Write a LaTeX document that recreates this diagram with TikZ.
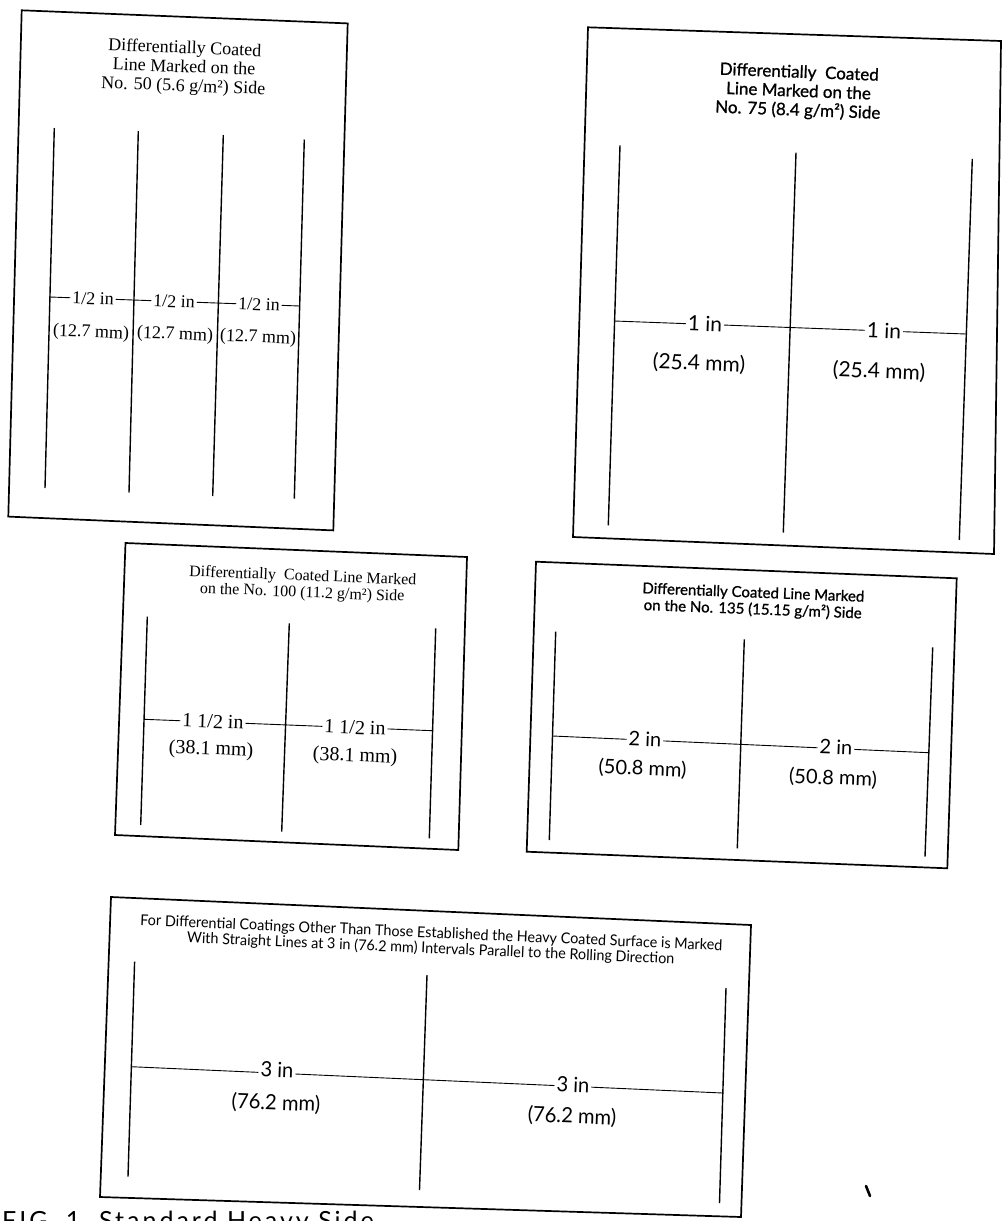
\documentclass[tikz,border=0pt]{standalone}
\usepackage{fontspec}
\setmainfont{Liberation Serif}
\newfontfamily\humsans{Lato}
\newfontfamily\humsansm[FakeBold=1]{Lato}
\newfontfamily\condsans[FakeStretch=0.96]{Lato}
\newfontfamily\capsans[LetterSpace=12]{Lato}
\begin{document}
\begin{tikzpicture}[x=1pt,y=-1pt,
  frame/.style={line width=1.7pt,line join=miter},
  vmark/.style={line width=1.4pt},
  hmark/.style={line width=0.9pt},
  lab/.style={fill=white,inner xsep=2pt,inner ysep=1pt,rotate=-2.2},
  sub/.style={inner sep=0pt,rotate=-2.2},
  ttl/.style={align=center,inner sep=0pt,rotate=-2.2},
  fa/.style={font=\fontsize{18}{19}\selectfont},
  fal/.style={font=\fontsize{18}{20}\selectfont},
  fb/.style={font=\humsansm\fontsize{17}{19}\selectfont},
  fbl/.style={font=\humsans\fontsize{21}{23}\selectfont},
  fc/.style={font=\fontsize{16}{16.6}\selectfont},
  fcl/.style={font=\fontsize{20}{22}\selectfont},
  fd/.style={font=\humsansm\fontsize{15}{16.7}\selectfont},
  fdl/.style={font=\humsans\fontsize{20}{22}\selectfont},
  fe/.style={font=\condsans\fontsize{15}{15.5}\selectfont},
  fel/.style={font=\condsans\fontsize{21}{23}\selectfont}]
\useasboundingbox (0,0) rectangle (1003,1221);
\fill[white] (0,0) rectangle (1003,1221);

% ---------- Box 1 ----------
\coordinate (b1a) at (21.7,10.3);
\coordinate (b1b) at (347.7,23.4);
\coordinate (b1c) at (333.3,530.4);
\coordinate (b1d) at (8.3,516.6);
\draw[frame] (b1a) -- (b1b) -- (b1c) -- (b1d) -- cycle;
\coordinate (b1l1t) at (54.3,128);   \coordinate (b1l1b) at (45,488);
\coordinate (b1l2t) at (138.3,131);  \coordinate (b1l2b) at (129,492.5);
\coordinate (b1l3t) at (223.3,135);  \coordinate (b1l3b) at (212.7,496);
\coordinate (b1l4t) at (304.3,139.5);\coordinate (b1l4b) at (294.3,498.7);
\draw[vmark] (b1l1t) -- (b1l1b);
\draw[vmark] (b1l2t) -- (b1l2b);
\draw[vmark] (b1l3t) -- (b1l3b);
\draw[vmark] (b1l4t) -- (b1l4b);
\coordinate (b1h0) at (49.9,297);
\coordinate (b1h3) at (299.7,306);
\draw[hmark] (b1h0) -- (b1h3);
\node[ttl,fa] (b1t) at (184,68) {Differentially Coated\\Line Marked on the\\No. 50 (5.6 g/m²) Side};
\node[lab,fal] (b1u1) at (93,298.6) {1/2 in};
\node[lab,fal] (b1u2) at (174,301.5) {1/2 in};
\node[lab,fal] (b1u3) at (259,304.5) {1/2 in};
\node[sub,fal] (b1m1) at (91,333) {(12.7 mm)};
\node[sub,fal] (b1m2) at (175,335) {(12.7 mm)};
\node[sub,fal] (b1m3) at (258,338) {(12.7 mm)};

% ---------- Box 2 ----------
\coordinate (b2a) at (588,27.3);
\coordinate (b2b) at (1001,41);
\coordinate (b2c) at (994,554);
\coordinate (b2d) at (573,537);
\draw[frame] (b2a) -- (b2b) -- (b2c) -- (b2d) -- cycle;
\coordinate (b2l1t) at (620,145.4);  \coordinate (b2l1b) at (608.3,525.3);
\coordinate (b2l2t) at (796,152.7);  \coordinate (b2l2b) at (783.3,532.5);
\coordinate (b2l3t) at (972.3,158.8);\coordinate (b2l3b) at (959.3,539.8);
\draw[vmark] (b2l1t) -- (b2l1b);
\draw[vmark] (b2l2t) -- (b2l2b);
\draw[vmark] (b2l3t) -- (b2l3b);
\coordinate (b2h0) at (614.4,321);
\coordinate (b2h2) at (966,334);
\draw[hmark] (b2h0) -- (b2h2);
\node[ttl,fb] (b2t) at (798.5,92) {Differentially\ \ Coated\\Line Marked on the\\No. 75 (8.4 g/m²) Side};
\node[lab,fbl] (b2u1) at (705,323.5) {1 in};
\node[lab,fbl] (b2u2) at (884,330.5) {1 in};
\node[sub,fbl] (b2m1) at (699,363.5) {(25.4 mm)};
\node[sub,fbl] (b2m2) at (879,371.5) {(25.4 mm)};

% ---------- Box 3 ----------
\coordinate (b3a) at (125.5,543);
\coordinate (b3b) at (467,557);
\coordinate (b3c) at (458.3,850);
\coordinate (b3d) at (115,835);
\draw[frame] (b3a) -- (b3b) -- (b3c) -- (b3d) -- cycle;
\coordinate (b3l1t) at (147.3,616.7); \coordinate (b3l1b) at (140.7,825);
\coordinate (b3l2t) at (289.3,623.3); \coordinate (b3l2b) at (281.7,831.7);
\coordinate (b3l3t) at (435.7,628.3); \coordinate (b3l3b) at (429.3,838.3);
\draw[vmark] (b3l1t) -- (b3l1b);
\draw[vmark] (b3l2t) -- (b3l2b);
\draw[vmark] (b3l3t) -- (b3l3b);
\coordinate (b3h0) at (144,719.3);
\coordinate (b3h2) at (432.6,730.7);
\draw[hmark] (b3h0) -- (b3h2);
\node[ttl,fc] (b3t) at (302.5,585) {Differentially\ \ Coated Line Marked\\on the No. 100 (11.2 g/m²) Side};
\node[lab,fcl] (b3u1) at (213,721.5) {1 1/2 in};
\node[lab,fcl] (b3u2) at (355,727.5) {1 1/2 in};
\node[sub,fcl] (b3m1) at (211,750) {(38.1 mm)};
\node[sub,fcl] (b3m2) at (355,756.7) {(38.1 mm)};

% ---------- Box 4 ----------
\coordinate (b4a) at (536,561.7);
\coordinate (b4b) at (956.7,578.3);
\coordinate (b4c) at (947.3,868.3);
\coordinate (b4d) at (526.7,851.7);
\draw[frame] (b4a) -- (b4b) -- (b4c) -- (b4d) -- cycle;
\coordinate (b4l1t) at (555.7,631.7); \coordinate (b4l1b) at (549.3,840);
\coordinate (b4l2t) at (744.3,639.3); \coordinate (b4l2b) at (737.3,848.3);
\coordinate (b4l3t) at (932.7,647.3); \coordinate (b4l3b) at (925,856.7);
\draw[vmark] (b4l1t) -- (b4l1b);
\draw[vmark] (b4l2t) -- (b4l2b);
\draw[vmark] (b4l3t) -- (b4l3b);
\coordinate (b4h0) at (552.5,736);
\coordinate (b4h2) at (928.8,752.7);
\draw[hmark] (b4h0) -- (b4h2);
\node[ttl,fd] (b4t) at (753,601.7) {Differentially Coated Line Marked\\on the No. 135 (15.15 g/m²) Side};
\node[lab,fdl] (b4u1) at (645,739.3) {2 in};
\node[lab,fdl] (b4u2) at (836,747.3) {2 in};
\node[sub,fdl] (b4m1) at (642.5,769) {(50.8 mm)};
\node[sub,fdl] (b4m2) at (833,778.3) {(50.8 mm)};

% ---------- Box 5 ----------
\coordinate (b5a) at (111,897);
\coordinate (b5b) at (751,925);
\coordinate (b5c) at (741,1217);
\coordinate (b5d) at (100,1197);
\draw[frame] (b5a) -- (b5b) -- (b5c) -- (b5d) -- cycle;
\coordinate (b5l1t) at (134.6,961.7); \coordinate (b5l1b) at (128,1176.7);
\coordinate (b5l2t) at (427,975);     \coordinate (b5l2b) at (419.5,1190);
\coordinate (b5l3t) at (726,988);     \coordinate (b5l3b) at (719.5,1203);
\draw[vmark] (b5l1t) -- (b5l1b);
\draw[vmark] (b5l2t) -- (b5l2b);
\draw[vmark] (b5l3t) -- (b5l3b);
\coordinate (b5h0) at (131.4,1066.7);
\coordinate (b5h2) at (722.8,1093);
\draw[hmark] (b5h0) -- (b5h2);
\node[ttl,fe,rotate=-0.3] (b5t) at (431,941.5) {For Differential Coatings Other Than Those Established the Heavy Coated Surface is Marked\\With Straight Lines at 3 in (76.2 mm) Intervals Parallel to the Rolling Direction};
\node[lab,fel] (b5u1) at (277,1070) {3 in};
\node[lab,fel] (b5u2) at (573,1085) {3 in};
\node[sub,fel] (b5m1) at (276,1103.3) {(76.2 mm)};
\node[sub,fel] (b5m2) at (572,1116.7) {(76.2 mm)};

% ---------- caption (cut by the page edge) ----------
\node[anchor=base west,inner sep=0pt,font=\capsans\fontsize{25}{27}\selectfont] (cap) at (2,1229) {FIG. 1\ \ Standard Heavy Side};

% speck
\coordinate (spk1) at (866,1186);
\coordinate (spk2) at (870,1196);
\draw[line width=2.6pt,line cap=round] (spk1) -- (spk2);
\end{tikzpicture}
\end{document}
